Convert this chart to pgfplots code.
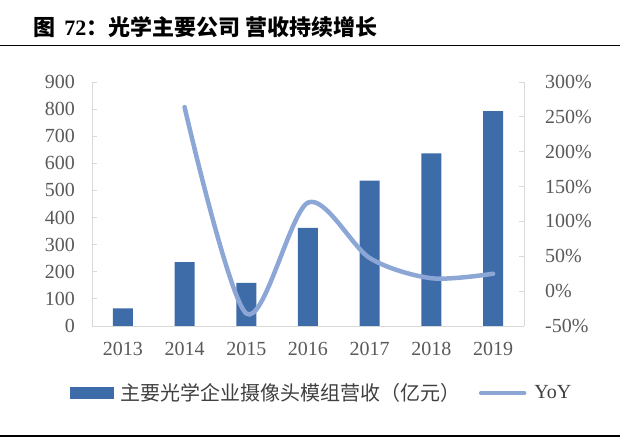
\documentclass[border=0pt]{standalone}
\usepackage{fontspec}
\setmainfont{Liberation Serif}
\newfontfamily\cjk{Noto Sans CJK SC}
\usepackage{pgfplots}
\pgfplotsset{compat=1.18}

\definecolor{barblue}{HTML}{3D6CA8}
\definecolor{yoyblue}{HTML}{8CA6D6}
\definecolor{axisgray}{HTML}{D9D9D9}
\definecolor{labelgray}{HTML}{595959}
\definecolor{legendgray}{HTML}{404040}

\pgfplotsset{
  base/.style={
    scale only axis, width=432bp, height=244bp,
    at={(92bp,111bp)}, anchor=south west,
    xmin=-0.5, xmax=6.5,
    axis line style={draw=axisgray, line width=0.8bp, -},
    tick style={draw=axisgray, line width=0.8bp},
    tick align=inside, major tick length=5bp,
    tick label style={font=\fontsize{20bp}{24bp}\selectfont, text=labelgray},
  }
}

\begin{document}
\begin{tikzpicture}
\useasboundingbox (0,0) rectangle (640bp,437bp);

% title and rules
\node[anchor=west, inner sep=0pt, font=\fontsize{22bp}{26bp}\selectfont] at (33bp,410bp)
  {{\cjk\bfseries 图}\, {\bfseries 72}{\cjk\bfseries ：光学主要公司 营收持续增长}};
\draw[line width=1.8bp] (0,391.5bp) -- (620bp,391.5bp);
\draw[line width=2bp] (0,1.2bp) -- (620bp,1.2bp);

% revenue bars (left axis)
\begin{axis}[base,
  ymin=0, ymax=900,
  ytick={0,100,200,300,400,500,600,700,800,900},
  yticklabels={0,100,200,300,400,500,600,700,800,900},
  axis y line*=left, axis x line*=bottom,
  xtick={0,1,2,3,4,5,6},
  xticklabels={2013,2014,2015,2016,2017,2018,2019},
  x tick style={draw=none},
  yticklabel style={anchor=east, inner sep=0pt, xshift=-17bp},
  xticklabel style={anchor=north, inner sep=0pt, yshift=-16bp},
]
\addplot[ybar, bar width=20bp, fill=barblue, draw=none] coordinates {
  (0,65) (1,236) (2,159) (3,362) (4,536) (5,637) (6,793)
};
\end{axis}

% YoY line (right axis)
\begin{axis}[base,
  ymin=-50, ymax=300,
  ytick={-50,0,50,100,150,200,250,300},
  yticklabels={-50\%,0\%,50\%,100\%,150\%,200\%,250\%,300\%},
  axis y line*=right, axis x line=none,
  yticklabel style={anchor=west, inner sep=0pt, xshift=21bp},
  legend columns=-1,
  legend style={draw=none, fill=none, at={(0.531,-0.275)}, anchor=center,
    font=\fontsize{20bp}{24bp}\selectfont, text=legendgray,
    /tikz/every odd column/.append style={column sep=6bp},
    /tikz/every even column/.append style={column sep=16bp}},
  legend cell align=left,
]
\addlegendimage{legend image code/.code={\fill[barblue] (0bp,-5.5bp) rectangle (43bp,5.5bp);}}
\addlegendentry{\cjk 主要光学企业摄像头模组营收（亿元）}
\addplot[yoyblue, line width=4.5bp, line cap=round, smooth, tension=0.5,
  legend image code/.code={\draw[yoyblue, line width=4.5bp, line cap=round] (2bp,0bp) -- (45bp,0bp);}]
  coordinates {
  (1,264) (2,-32) (3,127) (4,47.5) (5,18.5) (6,25)
};
\addlegendentry{YoY}
\end{axis}
\end{tikzpicture}
\end{document}
